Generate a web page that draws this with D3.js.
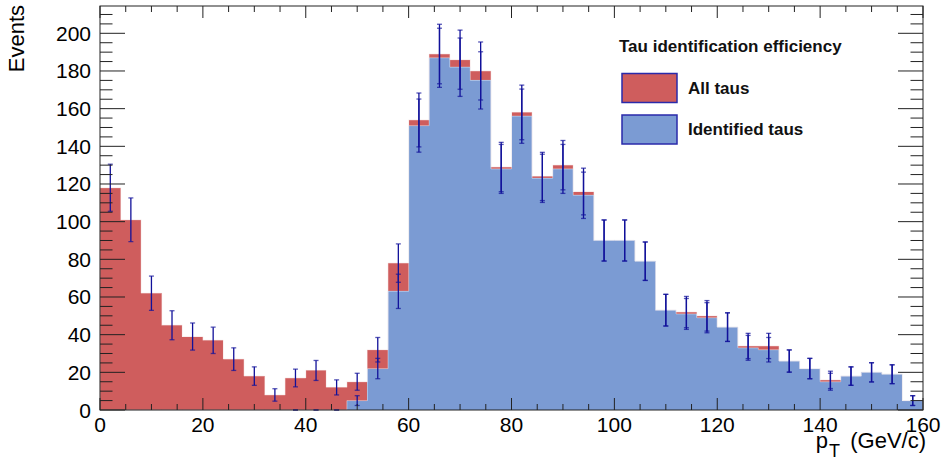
<!DOCTYPE html>
<html>
<head>
<meta charset="utf-8">
<script src="https://cdn.jsdelivr.net/npm/d3@7"></script>
<style>
  body { margin: 0; background: #fff; }
  text { font-family: "Liberation Sans", Arial, sans-serif; }
</style>
</head>
<body>
<script>
// bin edges: 40 bins of 4 GeV/c from 0 to 160
var binLow = d3.range(0, 160, 4);

// all taus
var allTaus = [118, 101, 62, 45, 39, 37, 27, 18, 8, 17, 21, 12, 15, 32, 78, 154, 189, 186, 180, 129,
               158, 124, 130, 116, 90, 90, 79, 53, 52, 50, 44, 34, 34, 26, 22, 16, 18, 20, 19, 5];
var allErr  = [12.5, 11.6, 9.1, 7.7, 7.2, 7.0, 6.0, 4.9, 3.3, 4.7, 5.3, 4.0, 4.5, 6.5, 10.2, 14.3, 15.8, 15.7, 15.4, 13.1,
               14.5, 12.8, 13.1, 12.4, 10.9, 10.9, 10.2, 8.4, 8.3, 8.1, 7.6, 6.7, 6.7, 5.9, 5.4, 4.6, 4.9, 5.1, 5.0, 2.6];

// identified taus (null error = no bar drawn)
var idTaus = [0, 0, 0, 0, 0, 0, 0, 0, 0, 0, 0, 0, 5, 22, 63, 151, 187, 182, 175, 128,
              156, 123, 128, 114, 90, 90, 79, 53, 51, 49, 44, 33, 32, 26, 22, 15, 18, 20, 19, 5];
var idErr  = [null, null, null, null, null, null, null, null, null, 0, 0, 0, 2.6, 5.4, 9.1, 14.1, 15.7, 15.5, 15.2, 13.0,
              14.4, 12.8, 13.0, 12.3, 10.9, 10.9, 10.2, 8.4, 8.2, 8.0, 7.6, 6.6, 6.5, 5.9, 5.4, 4.5, 4.9, 5.1, 5.0, 2.6];

var yTicks = [0, 20, 40, 60, 80, 100, 120, 140, 160, 180, 200];
var xTicks = [0, 20, 40, 60, 80, 100, 120, 140, 160];

function draw() {
    var W = 945, H = 466;
    var pL = 100, pR = 923, pT = 6, pB = 410;

    var x = d3.scaleLinear().domain([0, 160]).range([pL, pR]);
    var y = d3.scaleLinear().domain([0, 214.5]).range([pB, pT]);

    var svg = d3.select("body").append("svg")
        .attr("width", W)
        .attr("height", H);

    var redFill = "#cf5d5d", blueFill = "#7b9bd3", barCol = "#11119a";

    function bars(vals, fill) {
        svg.append("g").selectAll("rect")
            .data(vals)
            .enter()
            .append("rect")
            .attr("x", function(d, i) { return x(binLow[i]); })
            .attr("width", function(d, i) { return x(binLow[i] + 4) - x(binLow[i]); })
            .attr("y", function(d) { return y(d); })
            .attr("height", function(d) { return y(0) - y(d); })
            .attr("fill", fill)
            .attr("shape-rendering", "crispEdges");
    }
    bars(allTaus, redFill);
    bars(idTaus, blueFill);

    // faint histogram outlines
    function outline(vals, col) {
        var pts = [[0, 0]];
        vals.forEach(function(v, i) { pts.push([binLow[i], v]); pts.push([binLow[i] + 4, v]); });
        pts.push([160, 0]);
        svg.append("path")
            .attr("d", d3.line().x(function(p) { return x(p[0]); }).y(function(p) { return y(p[1]); })(pts))
            .attr("fill", "none")
            .attr("stroke", col)
            .attr("stroke-width", 1)
            .attr("stroke-opacity", 0.5);
    }
    outline(allTaus, "#f6e0e0");
    outline(idTaus, "#e4ecf8");

    // error bars
    function errBars(vals, errs) {
        var g = svg.append("g").attr("stroke", barCol).attr("stroke-width", 1.3);
        vals.forEach(function(v, i) {
            var e = errs[i];
            if (e === null) return;
            var cx = x(binLow[i] + 2);
            g.append("line").attr("x1", cx).attr("x2", cx).attr("y1", y(v - e)).attr("y2", y(v + e));
            [v - e, v + e].forEach(function(t) {
                g.append("line").attr("x1", cx - 2.5).attr("x2", cx + 2.5).attr("y1", y(t)).attr("y2", y(t))
                    .attr("stroke-opacity", 0.7);
            });
        });
    }
    errBars(allTaus, allErr);
    errBars(idTaus, idErr);

    // frame
    svg.append("rect")
        .attr("x", pL).attr("y", pT)
        .attr("width", pR - pL).attr("height", pB - pT)
        .attr("fill", "none").attr("stroke", "#222").attr("stroke-width", 1);

    // ticks on all four sides
    var tk = svg.append("g").attr("stroke", "#222").attr("stroke-width", 1);
    d3.range(0, 161, 5).forEach(function(v) {
        var len = v % 20 === 0 ? 12 : 6;
        tk.append("line").attr("x1", x(v)).attr("x2", x(v)).attr("y1", pB).attr("y2", pB - len);
        tk.append("line").attr("x1", x(v)).attr("x2", x(v)).attr("y1", pT).attr("y2", pT + len);
    });
    d3.range(0, 215, 5).forEach(function(v) {
        var len = v % 20 === 0 ? 25 : 12.5;
        tk.append("line").attr("x1", pL).attr("x2", pL + len).attr("y1", y(v)).attr("y2", y(v));
        tk.append("line").attr("x1", pR).attr("x2", pR - len).attr("y1", y(v)).attr("y2", y(v));
    });

    // tick labels
    svg.append("g").selectAll("text")
        .data(yTicks)
        .enter()
        .append("text")
        .attr("x", pL - 9)
        .attr("y", function(d) { return y(d) + 7.5; })
        .attr("text-anchor", "end")
        .style("font-size", "21px")
        .text(function(d) { return d; });

    svg.append("g").selectAll("text")
        .data(xTicks)
        .enter()
        .append("text")
        .attr("x", function(d) { return x(d); })
        .attr("y", 432)
        .attr("text-anchor", "middle")
        .style("font-size", "21px")
        .text(function(d) { return d; });

    // axis titles
    svg.append("text")
        .attr("transform", "translate(24,5) rotate(-90)")
        .attr("text-anchor", "end")
        .style("font-size", "22px")
        .text("Events");

    var xt = svg.append("text")
        .attr("x", 926)
        .attr("y", 448)
        .attr("text-anchor", "end")
        .style("font-size", "22px");
    xt.append("tspan").text("p");
    xt.append("tspan").attr("dy", 9).attr("dx", 1).style("font-size", "18px").text("T");
    xt.append("tspan").attr("dy", -9).attr("dx", 4).text(" (GeV/c)");

    // legend
    svg.append("text")
        .attr("x", 619).attr("y", 51.5)
        .attr("fill", "#111")
        .style("font-size", "17px").style("font-weight", "bold")
        .text("Tau identification efficiency");

    var legend = [{label: "All taus", fill: redFill, y: 73.5}, {label: "Identified taus", fill: blueFill, y: 115}];
    legend.forEach(function(l) {
        svg.append("rect")
            .attr("x", 622).attr("y", l.y)
            .attr("width", 55).attr("height", 29)
            .attr("fill", l.fill)
            .attr("stroke", "#2a2aaa").attr("stroke-width", 1.5);
        svg.append("text")
            .attr("x", 688).attr("y", l.y + 20)
            .attr("fill", "#111")
            .style("font-size", "17px").style("font-weight", "bold")
            .text(l.label);
    });
}

draw();
</script>
</body>
</html>
